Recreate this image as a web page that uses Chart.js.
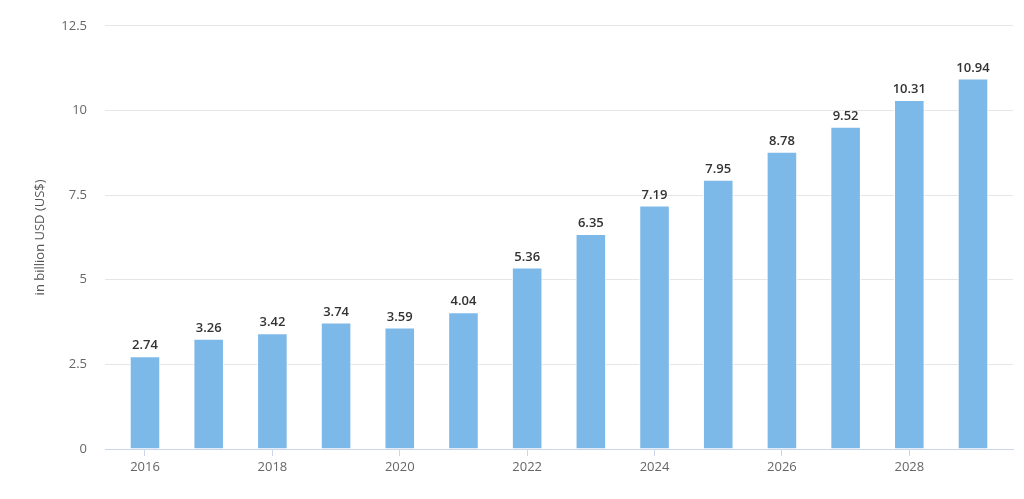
<!DOCTYPE html>
<html>
<head>
<meta charset="utf-8">
<script src="https://cdn.jsdelivr.net/npm/chart.js@4"></script>
<style>
  html, body { margin: 0; padding: 0; background: #fff; }
  #wrap { width: 1024px; height: 499px; }
</style>
</head>
<body>
<div id="wrap"><canvas id="myChart"></canvas></div>
<script>
// values
const years = [2016, 2017, 2018, 2019, 2020, 2021, 2022, 2023, 2024, 2025, 2026, 2027, 2028, 2029];
const revenue = [2.74, 3.26, 3.42, 3.74, 3.59, 4.04, 5.36, 6.35, 7.19, 7.95, 8.78, 9.52, 10.31, 10.94];
const yearTicks = [2016, 2018, 2020, 2022, 2024, 2026, 2028];
const yTicks = [0, 2.5, 5, 7.5, 10, 12.5];

const fontFamily = '"Open Sans", "Noto Sans", sans-serif';

// labels above each bar
const barLabels = {
  id: 'barLabels',
  afterDatasetsDraw(chart) {
    const ctx = chart.ctx;
    const meta = chart.getDatasetMeta(0);
    ctx.save();
    ctx.font = '600 13px ' + fontFamily;
    ctx.fillStyle = '#333';
    ctx.textAlign = 'center';
    ctx.textBaseline = 'bottom';
    meta.data.forEach((bar, i) => {
      ctx.fillText(revenue[i].toFixed(2), bar.x, bar.y - 4);
    });
    ctx.restore();
  }
};

new Chart('myChart', {
  type: 'bar',
  data: {
    datasets: [{
      data: years.map((y, i) => ({ x: y, y: revenue[i] })),
      backgroundColor: '#7cb9e8',
      borderColor: '#ffffff',
      borderWidth: 1,
      barPercentage: 0.48,
      categoryPercentage: 1
    }]
  },
  options: {
    responsive: true,
    maintainAspectRatio: false,
    animation: false,
    layout: { padding: { top: 22, right: 11, left: 32, bottom: 0 } },
    plugins: {
      legend: { display: false },
      tooltip: { enabled: false }
    },
    scales: {
      x: {
        type: 'linear',
        offset: false,
        min: 2015.372,
        max: 2029.628,
        afterBuildTicks: (axis) => { axis.ticks = yearTicks.map(v => ({ value: v })); },
        afterFit: (axis) => { axis.height = 50; },
        grid: { offset: false, drawOnChartArea: false, drawTicks: true, tickLength: 7, color: '#ccd6eb' },
        border: { color: '#ccd6eb' },
        ticks: {
          color: '#666',
          padding: 3,
          font: { family: fontFamily, size: 13 },
          callback: (v) => String(v)
        }
      },
      y: {
        min: 0,
        max: 12.5,
        afterBuildTicks: (axis) => { axis.ticks = yTicks.map(v => ({ value: v })); },
        afterFit: (axis) => { axis.width = 73; },
        grid: { color: '#e6e6e6', drawTicks: false },
        border: { display: false },
        ticks: {
          color: '#666',
          padding: 18,
          font: { family: fontFamily, size: 13 },
          callback: (v) => String(v)
        },
        title: {
          display: true,
          text: 'in billion USD (US$)',
          color: '#555',
          padding: 0,
          font: { family: fontFamily, size: 13 }
        }
      }
    }
  },
  plugins: [barLabels]
});
</script>
</body>
</html>
